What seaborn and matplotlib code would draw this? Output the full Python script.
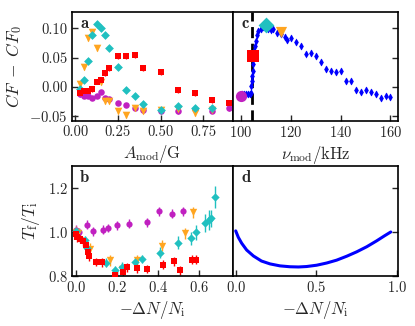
import numpy as np
import pandas as pd
import seaborn as sns
from matplotlib import pyplot as plt

sns.set_style('ticks')
plt.rcParams['font.family'] = 'serif'
plt.rcParams['font.serif'] = ['cmr10']
plt.rcParams['mathtext.fontset'] = 'cm'
plt.rcParams['axes.formatter.use_mathtext'] = True
plt.rcParams['axes.unicode_minus'] = True

PURPLE = '#c020c0'
ORANGE = '#ffa520'
CYAN = '#20c0c0'
RED = '#ff0000'
BLUE = '#0000ff'

# panel a: CF - CF0 vs modulation amplitude
amod_cyan = [0.025, 0.05, 0.075, 0.10, 0.125, 0.15, 0.175, 0.20, 0.25, 0.30, 0.35, 0.40, 0.50, 0.60, 0.70, 0.80]
cf_cyan = [-0.003, 0.012, 0.045, 0.088, 0.107, 0.100, 0.088, 0.066, 0.034, -0.006, -0.015, -0.030, -0.040, -0.033, -0.036, -0.036]
amod_orange = [0.025, 0.05, 0.075, 0.10, 0.125, 0.15, 0.175, 0.20, 0.25, 0.30, 0.35, 0.40, 0.50, 0.60, 0.70, 0.80]
cf_orange = [0.005, 0.034, 0.083, 0.094, 0.066, 0.008, -0.025, -0.025, -0.041, -0.049, -0.036, -0.041, -0.039, -0.038, -0.045, -0.040]
amod_red = [0.025, 0.05, 0.075, 0.10, 0.125, 0.15, 0.175, 0.20, 0.25, 0.30, 0.35, 0.40, 0.50, 0.60, 0.70, 0.80, 0.90]
cf_red = [-0.011, -0.007, -0.008, -0.004, 0.009, 0.011, 0.023, 0.032, 0.052, 0.053, 0.054, 0.032, 0.026, -0.006, -0.011, -0.023, -0.028]
amod_purple = [0.025, 0.05, 0.075, 0.10, 0.125, 0.15, 0.175, 0.20, 0.25, 0.30, 0.35, 0.40, 0.50, 0.60, 0.70, 0.80, 0.90]
cf_purple = [-0.013, -0.016, -0.015, -0.019, -0.016, -0.009, -0.020, -0.021, -0.028, -0.031, -0.036, -0.039, -0.041, -0.042, -0.038, -0.041, -0.037]

# panel b: temperature ratio vs atom loss
dn_purple = [0.0, 0.016, 0.052, 0.081, 0.13, 0.158, 0.2, 0.26, 0.345, 0.406, 0.47, 0.52]
t_purple = [1.01, 1.0, 1.033, 1.003, 1.01, 1.018, 1.03, 1.038, 1.044, 1.094, 1.083, 1.094]
dn_orange = [0.0, 0.01, 0.068, 0.166, 0.223, 0.296, 0.418, 0.532, 0.569, 0.645, 0.695]
t_orange = [1.0, 0.995, 0.923, 0.871, 0.832, 0.871, 0.938, 0.995, 1.09, 1.33, 1.36]
dn_cyan = [0.0, 0.044, 0.055, 0.146, 0.19, 0.225, 0.29, 0.32, 0.41, 0.50, 0.563, 0.585, 0.63, 0.65, 0.66, 0.678]
t_cyan = [1.005, 0.964, 0.926, 0.86, 0.826, 0.842, 0.862, 0.877, 0.906, 0.951, 0.971, 0.998, 1.04, 1.055, 1.062, 1.16]
dn_red = [0.0, 0.006, 0.02, 0.033, 0.05, 0.06, 0.065, 0.096, 0.128, 0.19, 0.23, 0.247, 0.30, 0.345, 0.423, 0.478, 0.507, 0.564, 0.585]
t_red = [0.99, 0.975, 0.97, 0.958, 0.94, 0.908, 0.89, 0.864, 0.862, 0.805, 0.82, 0.84, 0.835, 0.832, 0.851, 0.867, 0.826, 0.874, 0.874]

# panel c: CF - CF0 vs modulation frequency
nu_blue = [100.5, 101.2, 102.0, 102.9, 103.6, 104.0, 104.3, 104.5, 104.7, 104.9, 105.0, 105.3, 105.6, 106.0, 106.4,
           107.0, 108.0, 109.0, 110.0, 111.0, 112.0, 113.0, 114.4, 116.0, 117.6, 118.7, 120.0, 122.0, 124.0, 126.0,
           128.0, 130.0, 132.0, 134.0, 136.0, 138.0, 140.0, 142.0, 144.0, 146.0, 148.0, 150.0, 152.0, 154.0, 156.0,
           158.0, 160.0]
cf_blue = [-0.012, -0.012, -0.013, -0.013, -0.012, -0.010, 0.001, 0.010, 0.019, 0.027, 0.039, 0.062, 0.070, 0.079, 0.088,
           0.095, 0.099, 0.102, 0.100, 0.099, 0.098, 0.099, 0.092, 0.090, 0.085, 0.080, 0.084, 0.076, 0.070, 0.057,
           0.058, 0.053, 0.042, 0.030, 0.027, 0.026, 0.027, 0.010, 0.010, -0.006, -0.009, -0.006, -0.009, -0.012, -0.019,
           -0.015, -0.018]
nu_big = [100.0, 105.1, 110.0, 116.0]
cf_big = [-0.015, 0.053, 0.106, 0.093]
nu_resonance = 104.5

# panel d: model curve
dn_curve = [0.0, 0.016, 0.037, 0.068, 0.11, 0.16, 0.213, 0.275, 0.337, 0.39, 0.44, 0.503, 0.565, 0.627, 0.69,
            0.752, 0.814, 0.876, 0.925, 0.963]
t_curve = [1.005, 0.976, 0.949, 0.918, 0.891, 0.868, 0.855, 0.846, 0.842, 0.841, 0.843, 0.849, 0.859, 0.872, 0.89,
           0.91, 0.933, 0.96, 0.983, 1.0]


def points(ax, x, y, yerr, color, marker, size=22):
    ax.errorbar(x, y, yerr=yerr, fmt='none', ecolor=color, elinewidth=1.0, capsize=0, zorder=2)
    sns.scatterplot(x=x, y=y, ax=ax, color=color, marker=marker, s=size, linewidth=0, zorder=3)


fig = plt.figure(figsize=(4.15, 3.26), dpi=100)
ax_a = fig.add_axes([0.1735, 0.629, 0.388, 0.334])
ax_c = fig.add_axes([0.5614, 0.629, 0.3976, 0.334])
ax_b = fig.add_axes([0.1735, 0.1534, 0.388, 0.3374])
ax_d = fig.add_axes([0.5614, 0.1534, 0.3976, 0.3374])

# a
points(ax_a, amod_purple, cf_purple, 0.004, PURPLE, 'o', 22)
points(ax_a, amod_orange, cf_orange, 0.005, ORANGE, 'v', 30)
points(ax_a, amod_cyan, cf_cyan, 0.005, CYAN, 'D', 20)
points(ax_a, amod_red, cf_red, 0.005, RED, 's', 22)
ax_a.set_xlim(-0.02, 0.926)
ax_a.set_ylim(-0.0585, 0.128)
ax_a.set_xticks([0.0, 0.25, 0.5, 0.75])
ax_a.set_xticklabels(['0.00', '0.25', '0.50', '0.75'])
ax_a.set_yticks([-0.05, 0.0, 0.05, 0.10])
ax_a.set_yticklabels(['$-0.05$', '0.00', '0.05', '0.10'])
ax_a.set_xlabel(r'$A_\mathrm{mod}/\mathrm{G}$', fontsize=12, labelpad=3)
ax_a.set_ylabel(r'$CF\;-\;CF_0$', fontsize=12.5, labelpad=4)

# c
points(ax_c, nu_blue, cf_blue, 0.005, BLUE, 'd', 16)
ax_c.axvline(nu_resonance, color='black', lw=2, ls=(0, (4, 2)), zorder=1)
big_colors = [PURPLE, RED, CYAN, ORANGE]
big_markers = ['o', 's', 'D', 'v']
for xv, yv, col, mk in zip(nu_big, cf_big, big_colors, big_markers):
    sns.scatterplot(x=[xv], y=[yv], ax=ax_c, color=col, marker=mk, s=65, linewidth=0, zorder=4)
ax_c.set_xlim(96.9, 163)
ax_c.set_ylim(-0.0585, 0.128)
ax_c.set_xticks([100, 120, 140, 160])
ax_c.set_yticks([-0.05, 0.0, 0.05, 0.10])
ax_c.yaxis.tick_right()
ax_c.tick_params(axis='y', labelright=False)
ax_c.set_xlabel(r'$\nu_\mathrm{mod}/\mathrm{kHz}$', fontsize=12, labelpad=3)

# b
points(ax_b, dn_purple, t_purple, 0.02, PURPLE, 'o', 20)
points(ax_b, dn_orange, t_orange, 0.025, ORANGE, 'v', 28)
points(ax_b, dn_cyan, t_cyan, [0.015, 0.02, 0.02, 0.02, 0.02, 0.02, 0.02, 0.02, 0.025, 0.03, 0.03, 0.035, 0.04, 0.045, 0.04, 0.05],
       CYAN, 'D', 18)
points(ax_b, dn_red, t_red, 0.02, RED, 's', 20)
ax_b.set_xlim(-0.0195, 0.766)
ax_b.set_ylim(0.8, 1.3)
ax_b.set_xticks([0.0, 0.2, 0.4, 0.6])
ax_b.set_yticks([0.8, 1.0, 1.2])
ax_b.set_xlabel(r'$-\mathit{\Delta} N/N_\mathrm{i}$', fontsize=12, labelpad=3)
ax_b.set_ylabel(r'$T_\mathrm{f}/T_\mathrm{i}$', fontsize=12.5, labelpad=4)

# d
curve = pd.DataFrame({'dn': dn_curve, 't': t_curve})
sns.lineplot(data=curve, x='dn', y='t', ax=ax_d, color=BLUE, lw=2.2)
ax_d.set_xlim(-0.017, 1.008)
ax_d.set_ylim(0.8, 1.3)
ax_d.set_xticks([0.0, 0.5, 1.0])
ax_d.set_yticks([0.8, 1.0, 1.2])
ax_d.yaxis.tick_right()
ax_d.tick_params(axis='y', labelright=False)
ax_d.set_xlabel(r'$-\mathit{\Delta} N/N_\mathrm{i}$', fontsize=12, labelpad=3)
ax_d.set_ylabel('')

for ax, lab in zip([ax_a, ax_c, ax_b, ax_d], ['a', 'c', 'b', 'd']):
    for sp in ax.spines.values():
        sp.set_visible(True)
        sp.set_linewidth(1.2)
        sp.set_color('black')
    ax.tick_params(direction='in', length=4, width=1, labelsize=10.5, pad=3)
    ax.text(0.05, 0.96, lab, transform=ax.transAxes, ha='left', va='top',
            fontsize=12, family='cmb10')

fig.savefig('out.png', dpi=100)
